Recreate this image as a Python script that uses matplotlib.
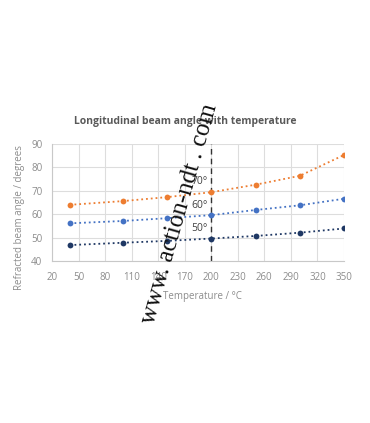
import matplotlib
matplotlib.use("Agg")
import matplotlib.pyplot as plt

temps = [40, 100, 150, 200, 250, 300, 350]
angle_70 = [64.0, 65.6, 67.3, 69.4, 72.6, 76.4, 85.3]
angle_60 = [56.1, 57.1, 58.3, 59.6, 61.8, 63.8, 66.6]
angle_50 = [46.8, 47.8, 48.6, 49.6, 50.7, 52.1, 53.9]
series_labels = ["70°", "60°", "50°"]
label_y = [74.0, 63.8, 54.0]
x_ticks = list(range(20, 351, 30))
y_ticks = [40, 50, 60, 70, 80, 90]

colors = ["#ED7D31", "#4472C4", "#1F3864"]

fig = plt.figure(figsize=(3.70, 4.23), dpi=100)
fig.patch.set_facecolor("white")
ax = fig.add_axes([52/370, 1-261/423, (344-52)/370, (261-144)/423])

for ys, c in zip([angle_70, angle_60, angle_50], colors):
    ax.plot(temps, ys, linestyle=":", color=c, linewidth=1.3, marker="o",
            markersize=4.2, markeredgewidth=0, zorder=3)

ax.axvline(200, color="#333333", linestyle=(0, (4, 3)), linewidth=1.0, zorder=2)
for lab, ly in zip(series_labels, label_y):
    ax.text(196, ly, lab, ha="right", va="center", fontsize=7.5,
            color="#404040", family="Open Sans")

ax.set_xlim(20, 350)
ax.set_ylim(40, 90)
ax.set_xticks(x_ticks)
ax.set_yticks(y_ticks)
ax.grid(True, color="#DDDDDD", linewidth=0.8)
ax.set_axisbelow(True)
for k, s in ax.spines.items():
    if k in ("left", "bottom"):
        s.set_color("#C8C8C8")
        s.set_linewidth(0.8)
    else:
        s.set_visible(False)
ax.tick_params(axis="x", length=0, labelsize=7, labelcolor="#8C8C8C", pad=8)
ax.tick_params(axis="y", length=0, labelsize=7, labelcolor="#8C8C8C", pad=7)
for lbl in ax.get_xticklabels() + ax.get_yticklabels():
    lbl.set_family("Open Sans")

fig.text(202/370, 1-296/423, "Temperature / °C", ha="center", va="center",
         fontsize=7, color="#8C8C8C", family="Open Sans")
fig.text(20/370, 1-218/423, "Refracted beam angle / degrees", rotation=90,
         ha="center", va="center", fontsize=7, color="#8C8C8C",
         family="Open Sans")
fig.text(185/370, 1-121/423, "Longitudinal beam angle with temperature",
         ha="center", va="center", fontsize=7.5, color="#595959",
         fontweight="bold", family="Open Sans")

fig.text(180/370, 1-214/423, "www. action-ndt . com", rotation=74,
         ha="center", va="center", fontsize=18, color="#111111",
         family="Liberation Serif")

fig.savefig("out.png", dpi=100, facecolor="white")
